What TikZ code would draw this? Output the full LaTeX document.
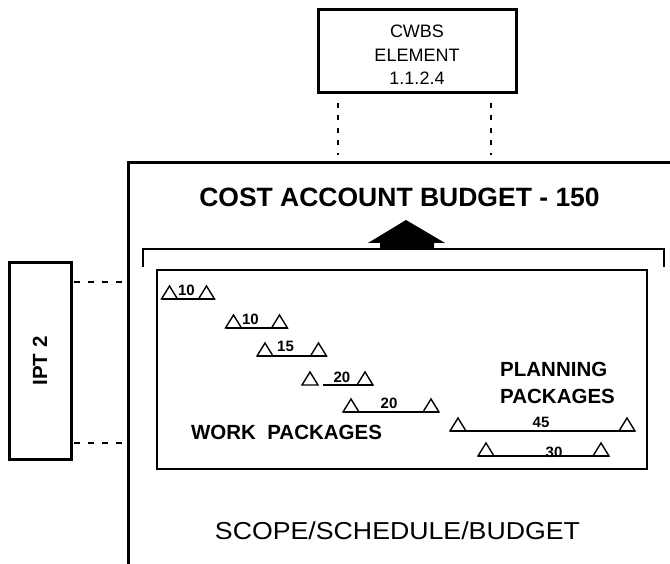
\documentclass[tikz,border=0pt]{standalone}
\usepackage{fontspec}
\setmainfont{Liberation Sans}
\usepackage{graphicx}
\begin{document}
\begin{tikzpicture}[x=1pt,y=-1pt,
  thickbox/.style={draw,line width=3pt,inner sep=0pt},
  thinline/.style={line width=1.6pt},
  barline/.style={line width=1.4pt},
  dots/.style={line width=2.6pt,dash pattern=on 5pt off 7.5pt},
  hdots/.style={line width=2.6pt,dash pattern=on 5.5pt off 8.5pt},
  barlabel/.style={font=\fontsize{15}{17}\selectfont\bfseries,inner sep=0pt,anchor=base},
  bigbold/.style={font=\fontsize{20.5}{24}\selectfont\bfseries,inner sep=0pt},
  ms/.pic={\draw[barline,fill=white,line join=miter] (-8,0) -- (0,-13) -- (8,0) -- cycle;}
]
\useasboundingbox (0,0) rectangle (670,564);

% CWBS element box
\node[thickbox,minimum width=198,minimum height=83] (cwbs) at (417,51.5) {};
\node[align=center,inner sep=0pt,font=\fontsize{18}{23.5}\selectfont] (cwbstext) at (417,55)
  {CWBS\\ELEMENT\\1.1.2.4};

% open frame of the cost account
\coordinate (frameTR) at (670,163);
\coordinate (frameTL) at (128,163);
\coordinate (frameBL) at (128,564);
\draw[line width=3pt,line join=miter] (frameTR) -- (frameTL) -- (frameBL);

% dotted ties from the CWBS element down to the frame
\coordinate (d1a) at (338,103); \coordinate (d1b) at (338,155);
\coordinate (d2a) at (491,103); \coordinate (d2b) at (491,155);
\draw[dots] (d1a) -- (d1b);
\draw[dots] (d2a) -- (d2b);

% IPT box and its dashed ties
\node[thickbox,rotate=90,minimum width=196,minimum height=62,
      font=\fontsize{20.5}{24}\selectfont\bfseries] (ipt) at (40,361) {IPT 2};
\coordinate (h1) at (126,282);
\coordinate (h2) at (126,443);
\draw[hdots] (ipt.south |- h1) ++(1.5,0) -- (h1);
\draw[hdots] (ipt.south |- h2) ++(1.5,0) -- (h2);

% title and roll-up arrow
\node[inner sep=0pt,anchor=base,font=\fontsize{26.5}{30}\selectfont\bfseries] (title) at (399.5,207)
  {COST ACCOUNT BUDGET - 150};
\coordinate (arrowtip) at (406,220);
\fill (arrowtip) -- (445,243) -- (434,243) -- (434,249.5) -- (380,249.5) -- (380,243) -- (368,243) -- cycle;

% bracket over the packages
\coordinate (brL) at (143,267);
\coordinate (brR) at (664,267);
\draw[thinline,line join=miter] (brL) -- (143,249) -- (664,249) -- (brR);

% packages box
\node[draw,thinline,minimum width=490,minimum height=199,inner sep=0pt] (pkgs) at (402,369.5) {};

% work packages
\pic at (169.5,299) {ms}; \pic at (206.5,299) {ms};
\draw[barline] (161.5,299) -- (214.5,299);
\node[barlabel] (w1) at (186.5,296) {10};

\pic at (233.5,328) {ms}; \pic at (279.5,328) {ms};
\draw[barline] (225.5,328) -- (287.5,328);
\node[barlabel] (w2) at (250.5,325) {10};

\pic at (265,356) {ms}; \pic at (318.5,356) {ms};
\draw[barline] (257,356) -- (326.5,356);
\node[barlabel] (w3) at (285.5,352) {15};

\pic at (310,385) {ms}; \pic at (365,385) {ms};
\draw[barline] (323,385) -- (373,385);
\node[barlabel] (w4) at (342,382) {20};

\pic at (351,412) {ms}; \pic at (431,412) {ms};
\draw[barline] (343,412) -- (439,412);
\node[barlabel] (w5) at (389,408) {20};

\node[bigbold,anchor=base] (wp) at (286.5,439) {WORK\ \ PACKAGES};

% planning packages
\node[bigbold,anchor=base west] (pp1) at (500,377) {PLANNING};
\node[bigbold,anchor=base west] (pp2) at (500,403) {PACKAGES};

\pic at (458,431) {ms}; \pic at (627,431) {ms};
\draw[barline] (450,431) -- (635,431);
\node[barlabel] (p1) at (541,427) {45};

\pic at (486,456) {ms}; \pic at (601,456) {ms};
\draw[barline] (478,456) -- (609,456);
\node[barlabel] (p2) at (554,457) {30};

% bottom caption
\node[inner sep=0pt,anchor=base,font=\fontsize{24.5}{28}\selectfont] (caption) at (397.5,539)
  {\scalebox{1.09}[1]{SCOPE/SCHEDULE/BUDGET}};
\end{tikzpicture}
\end{document}
